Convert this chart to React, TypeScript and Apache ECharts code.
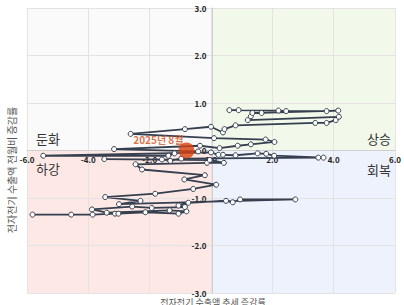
import React, { useEffect, useRef } from "react";
import * as echarts from "echarts";

const xTicksMin = -6;
const xTicksMax = 6;
const yTicksMin = -3;
const yTicksMax = 3;

// trajectory points [trend change, month-over-month change]
const trajectory: [number, number][] = [
  [-5.82, -1.35], [-4.56, -1.35], [-3.86, -1.35], [-3.13, -1.33], [-3.02, -1.33],
  [-2.14, -1.3], [-1.06, -1.33], [-0.8, -1.28], [-1.35, -1.26], [-3.4, -1.31],
  [-3.88, -1.24], [-2.57, -1.18], [-1.93, -1.21], [-0.85, -1.19], [-1.06, -1.16],
  [-0.74, -1.1], [0.49, -1.06], [0.71, -1.09], [0.95, -1.03], [2.75, -1.03],
  [-3.0, -1.13], [-2.3, -1.06], [-3.45, -0.98], [-1.82, -0.91], [-0.58, -0.81],
  [0.17, -0.72], [-0.87, -0.61], [-0.2, -0.52], [-2.25, -0.4], [-2.46, -0.29],
  [-0.13, -0.26], [0.42, -0.26], [-0.04, -0.2], [-3.48, -0.18], [-1.6, -0.19],
  [-1.33, -0.22], [-0.97, -0.17], [3.5, -0.15], [3.67, -0.15], [2.06, -0.11],
  [1.8, -0.07], [1.52, -0.06], [0.8, -0.1], [0.39, -0.09], [0.24, -0.09],
  [0.0, -0.04], [-5.47, -0.11], [-1.39, -0.11], [-1.19, -0.06], [-0.42, -0.02],
  [-3.16, 0.03], [-0.36, 0.1], [0.28, 0.05], [0.87, 0.1], [1.3, 0.13],
  [2.07, 0.18], [1.78, 0.23], [0.1, 0.26], [-2.62, 0.35], [-0.85, 0.45],
  [0.0, 0.5], [0.39, 0.38], [0.44, 0.45], [0.8, 0.53], [3.4, 0.58],
  [3.77, 0.58], [4.07, 0.64], [4.17, 0.71], [1.2, 0.64], [1.3, 0.72],
  [1.35, 0.79], [1.65, 0.79], [4.15, 0.84], [3.77, 0.83], [2.45, 0.83],
  [2.2, 0.84], [0.6, 0.85], [0.9, 0.85],
];

const latestPoint: [number, number] = [-0.8, 0.0];
const latestLabel = "2025년 8월";

const quadrantNames = ["둔화", "상승", "하강", "회복"];
const quadrantColors = ["#fafafa", "#f2f9eb", "#fde8e6", "#eef2fd"];

const xAxisName = "전자전기 수출액 추세 증감률";
const yAxisName = "전자전기 수출액 전월비 증감률";

const W = 404;
const H = 305;
const G = { left: 27, right: 6, top: 8, bottom: 12 };

export default function App() {
  const ref = useRef<HTMLDivElement>(null);
  useEffect(() => {
    if (!ref.current) return;
    const chart = echarts.init(ref.current, null, { renderer: "svg" });
    const font = "'Noto Sans CJK KR', 'Noto Sans', sans-serif";
    const gw = W - G.left - G.right;
    const gh = H - G.top - G.bottom;
    // put axes through the origin
    const xOffset = -gh * (0 - yTicksMin) / (yTicksMax - yTicksMin);
    const yOffset = -gw * (0 - xTicksMin) / (xTicksMax - xTicksMin);
    const qText = (text: string, x: number, y: number) => ({
      type: "text",
      x,
      y,
      z: 10,
      style: { text, fontSize: 13, fill: "#333", fontFamily: font, align: "center", verticalAlign: "middle" },
    });
    chart.setOption({
      animation: false,
      textStyle: { fontFamily: font },
      grid: { ...G, containLabel: false },
      xAxis: {
        type: "value",
        min: xTicksMin,
        max: xTicksMax,
        interval: 2,
        position: "bottom",
        offset: xOffset,
        z: 4,
        axisLine: { onZero: false, lineStyle: { color: "#cfcfcf", width: 1 } },
        axisTick: { show: false },
        axisLabel: {
          formatter: (v: number) => v.toFixed(1),
          fontSize: 8,
          fontWeight: "bold",
          color: "#222",
          margin: 5,
          showMinLabel: true,
          showMaxLabel: true,
        },
        splitLine: { show: true, lineStyle: { color: "#e3e3e3", width: 1 } },
      },
      yAxis: {
        type: "value",
        min: yTicksMin,
        max: yTicksMax,
        interval: 1,
        position: "left",
        offset: yOffset,
        z: 4,
        axisLine: { onZero: false, lineStyle: { color: "#cfcfcf", width: 1 } },
        axisTick: { show: false },
        axisLabel: {
          formatter: (v: number) => (v === 0 ? "0" : v.toFixed(1)),
          fontSize: 8,
          fontWeight: "bold",
          color: "#222",
          margin: 6,
        },
        splitLine: { show: true, lineStyle: { color: "#e3e3e3", width: 1 } },
      },
      graphic: [
        qText(quadrantNames[0], 48, 138),
        qText(quadrantNames[1], 379, 138),
        qText(quadrantNames[2], 48, 168),
        qText(quadrantNames[3], 379, 169),
        {
          type: "text",
          x: 11,
          y: 170,
          rotation: Math.PI / 2,
          style: { text: yAxisName, fontSize: 10, fill: "#555", fontFamily: font, align: "center", verticalAlign: "middle" },
        },
        {
          type: "text",
          x: 213,
          y: 302,
          style: { text: xAxisName, fontSize: 9, fill: "#555", fontFamily: font, align: "center", verticalAlign: "middle" },
        },
      ],
      series: [
        {
          type: "scatter",
          z: 1,
          silent: true,
          data: [],
          markArea: {
            silent: true,
            z: 1,
            data: [
              [{ coord: [xTicksMin, 0], itemStyle: { color: quadrantColors[0] } }, { coord: [0, yTicksMax] }],
              [{ coord: [0, 0], itemStyle: { color: quadrantColors[1] } }, { coord: [xTicksMax, yTicksMax] }],
              [{ coord: [xTicksMin, yTicksMin], itemStyle: { color: quadrantColors[2] } }, { coord: [0, 0] }],
              [{ coord: [0, yTicksMin], itemStyle: { color: quadrantColors[3] } }, { coord: [xTicksMax, 0] }],
            ],
          },
        },
        {
          type: "line",
          data: trajectory,
          symbol: "circle",
          symbolSize: 5,
          lineStyle: { color: "#353f4f", width: 1.8 },
          itemStyle: { color: "#fff", borderColor: "#353f4f", borderWidth: 1 },
          z: 6,
        },
        {
          type: "scatter",
          data: [latestPoint],
          symbolSize: 16,
          itemStyle: { color: "#d9410f" },
          z: 8,
          label: {
            show: true,
            formatter: latestLabel,
            position: "left",
            offset: [10, -11],
            fontSize: 10,
            fontWeight: "bold",
            color: "#d4501c",
          },
        },
      ],
    });
    return () => chart.dispose();
  }, []);
  return <div ref={ref} style={{ width: W, height: H, position: "absolute", left: 0, top: 0 }} />;
}
